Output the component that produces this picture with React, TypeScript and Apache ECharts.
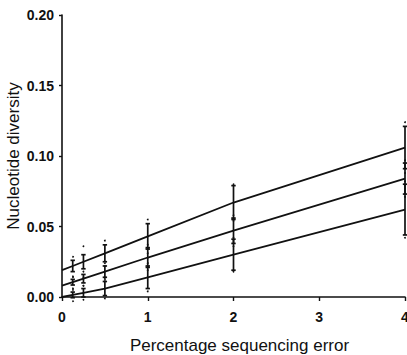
import React, { useEffect, useRef } from "react";
import * as echarts from "echarts";

const lineX = [0, 0.125, 0.25, 0.5, 1, 2, 4];
const upperLine = [0.019, 0.022, 0.025, 0.031, 0.043, 0.067, 0.106];
const middleLine = [0.008, 0.0105, 0.013, 0.018, 0.028, 0.047, 0.084];
const lowerLine = [0.0, 0.0015, 0.003, 0.006, 0.014, 0.03, 0.062];

const barX = [0.125, 0.25, 0.5, 1, 2, 4];
const upperMean = [0.022, 0.025, 0.031, 0.043, 0.067, 0.106];
const middleMean = [0.0105, 0.013, 0.018, 0.028, 0.047, 0.084];
const lowerMean = [0.0015, 0.003, 0.006, 0.014, 0.03, 0.062];
const upperErr = [0.004, 0.005, 0.006, 0.009, 0.012, 0.015];
const middleErr = [0.002, 0.003, 0.004, 0.007, 0.009, 0.011];
const lowerErr = [0.002, 0.003, 0.005, 0.008, 0.011, 0.018];
const upperRange = [0.007, 0.011, 0.009, 0.012, 0.013, 0.018];
const middleRange = [0.004, 0.005, 0.006, 0.009, 0.011, 0.013];
const lowerRange = [0.004, 0.005, 0.007, 0.010, 0.012, 0.02];

const yTicks = [0, 0.05, 0.1, 0.15, 0.2];
const xTicks = [0, 1, 2, 3, 4];

const FONT = "Liberation Sans, Arial, Helvetica, sans-serif";

function lineData(vals: number[]) {
  return lineX.map((x, i) => [x, vals[i]]);
}
function barData(mean: number[], err: number[], range: number[]) {
  return barX.map((x, i) => [x, mean[i], err[i], range[i]]);
}

const renderBar = (params: any, api: any) => {
  const x = api.value(0);
  const y = api.value(1);
  const e = api.value(2);
  const r = api.value(3);
  const top = api.coord([x, y + e]);
  const bot = api.coord([x, y - e]);
  const rt = api.coord([x, y + r]);
  const rb = api.coord([x, y - r]);
  const w = 2.2;
  const st = { stroke: "#111", lineWidth: 1.7 };
  return {
    type: "group",
    children: [
      { type: "line", shape: { x1: top[0], y1: top[1], x2: bot[0], y2: bot[1] }, style: st },
      { type: "line", shape: { x1: top[0] - w, y1: top[1], x2: top[0] + w, y2: top[1] }, style: st },
      { type: "line", shape: { x1: bot[0] - w, y1: bot[1], x2: bot[0] + w, y2: bot[1] }, style: st },
      { type: "circle", shape: { cx: rt[0], cy: rt[1], r: 0.9 }, style: { fill: "#111" } },
      { type: "circle", shape: { cx: rb[0], cy: rb[1], r: 0.9 }, style: { fill: "#111" } },
    ],
  };
};

export default function App() {
  const ref = useRef<HTMLDivElement>(null);
  useEffect(() => {
    if (!ref.current) return;
    const chart = echarts.init(ref.current, null, { renderer: "svg" });
    const lineSeries = (vals: number[]) => ({
      type: "line",
      data: lineData(vals),
      showSymbol: false,
      symbol: "none",
      lineStyle: { color: "#111", width: 1.8 },
      silent: true,
      z: 2,
    });
    const barSeries = (m: number[], e: number[], r: number[]) => ({
      type: "custom",
      data: barData(m, e, r),
      renderItem: renderBar,
      clip: false,
      silent: true,
      z: 3,
    });
    chart.setOption({
      animation: false,
      backgroundColor: "#fff",
      grid: {
        left: 62,
        right: 2,
        top: 15,
        bottom: 58,
        containLabel: false,
        outerBoundsMode: "none",
      },
      xAxis: {
        type: "value",
        min: 0,
        max: 4,
        interval: 1,
        offset: 3,
        name: "Percentage sequencing error",
        nameLocation: "middle",
        nameGap: 37,
        nameMoveOverlap: false,
        nameTextStyle: { fontFamily: FONT, fontSize: 17, color: "#111", padding: [0, 0, 0, 12] },
        axisLine: { show: true, lineStyle: { color: "#111", width: 1.6 } },
        axisTick: { show: true, length: 4, lineStyle: { color: "#111", width: 1.4 } },
        axisLabel: {
          fontFamily: FONT,
          fontSize: 14,
          fontWeight: "bold",
          color: "#111",
          margin: 10,
          formatter: (v: number) => (xTicks.includes(v) ? String(v) : ""),
        },
        splitLine: { show: false },
      },
      yAxis: {
        type: "value",
        min: 0,
        max: 0.2,
        interval: 0.05,
        offset: 4,
        name: "Nucleotide diversity",
        nameLocation: "middle",
        nameGap: 36,
        nameMoveOverlap: false,
        nameTextStyle: { fontFamily: FONT, fontSize: 17, color: "#111" },
        axisLine: { show: true, lineStyle: { color: "#111", width: 1.6 } },
        axisTick: { show: true, length: 3, lineStyle: { color: "#111", width: 1.4 } },
        axisLabel: {
          fontFamily: FONT,
          fontSize: 14,
          fontWeight: "bold",
          color: "#111",
          margin: 4,
          formatter: (v: number) =>
            yTicks.some((t) => Math.abs(t - v) < 1e-9) ? v.toFixed(2) : "",
        },
        splitLine: { show: false },
      },
      series: [
        lineSeries(upperLine),
        lineSeries(middleLine),
        lineSeries(lowerLine),
        barSeries(upperMean, upperErr, upperRange),
        barSeries(middleMean, middleErr, middleRange),
        barSeries(lowerMean, lowerErr, lowerRange),
      ],
    });
    return () => chart.dispose();
  }, []);
  return <div ref={ref} style={{ width: 407, height: 355, position: "absolute", left: 0, top: 0 }} />;
}
